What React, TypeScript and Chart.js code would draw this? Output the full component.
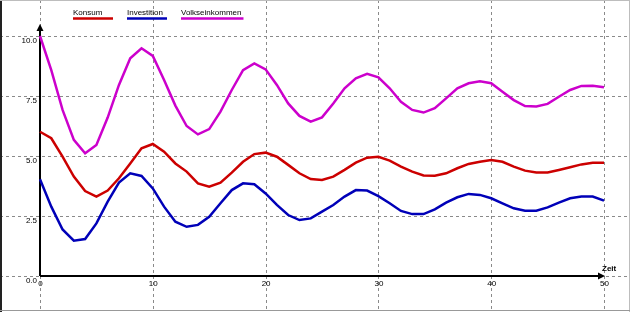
import React, { useEffect, useRef } from "react";
import { Chart, registerables } from "chart.js";

Chart.register(...registerables);

// ---- data ----
const zeit = [
  0, 1, 2, 3, 4, 5, 6, 7, 8, 9, 10, 11, 12, 13, 14, 15, 16, 17, 18, 19, 20, 21, 22, 23, 24, 25,
  26, 27, 28, 29, 30, 31, 32, 33, 34, 35, 36, 37, 38, 39, 40, 41, 42, 43, 44, 45, 46, 47, 48, 49, 50,
];

const konsum = [
  6.01, 5.74, 4.97, 4.14, 3.54, 3.31, 3.56, 4.07, 4.69, 5.32,
  5.5, 5.18, 4.69, 4.35, 3.86, 3.72, 3.89, 4.31, 4.76, 5.08,
  5.14, 4.97, 4.63, 4.28, 4.04, 4.0, 4.14, 4.42, 4.72, 4.93,
  4.97, 4.81, 4.56, 4.35, 4.19, 4.18, 4.28, 4.49, 4.67, 4.76,
  4.83, 4.76, 4.56, 4.39, 4.31, 4.31, 4.42, 4.53, 4.65, 4.72, 4.72,
];

const investition = [
  4.03, 2.89, 1.94, 1.47, 1.54, 2.19, 3.1, 3.89, 4.28, 4.17,
  3.65, 2.89, 2.26, 2.05, 2.13, 2.47, 3.03, 3.58, 3.86, 3.82,
  3.44, 2.96, 2.54, 2.33, 2.4, 2.68, 2.96, 3.31, 3.58, 3.56,
  3.33, 3.03, 2.71, 2.58, 2.58, 2.78, 3.06, 3.28, 3.42, 3.38,
  3.24, 3.03, 2.82, 2.72, 2.72, 2.86, 3.06, 3.24, 3.31, 3.31, 3.14,
];

const volkseinkommen = [
  10.0, 8.58, 6.92, 5.67, 5.11, 5.46, 6.6, 7.96, 9.07, 9.49,
  9.17, 8.17, 7.1, 6.25, 5.9, 6.12, 6.85, 7.75, 8.58, 8.86,
  8.61, 7.96, 7.19, 6.67, 6.43, 6.61, 7.19, 7.82, 8.24, 8.42,
  8.28, 7.82, 7.26, 6.92, 6.81, 6.99, 7.4, 7.82, 8.03, 8.11,
  8.03, 7.68, 7.33, 7.08, 7.06, 7.17, 7.47, 7.75, 7.92, 7.93, 7.86,
];

const seriesNames = ["Konsum", "Investition", "Volkseinkommen"];
const seriesColors = ["#cc0000", "#0000b8", "#cc00cc"];

const xTicks = [0, 10, 20, 30, 40, 50];
const xTickLabels = ["0", "10", "20", "30", "40", "50"];
const yTicks = [0, 2.5, 5, 7.5, 10];
const yTickLabels = ["0.0", "2.5", "5.0", "7.5", "10.0"];
const xAxisTitle = "Zeit";

const FONT = "'Liberation Sans', Arial, sans-serif";

export default function App() {
  const ref = useRef<HTMLCanvasElement | null>(null);

  useEffect(() => {
    const canvas = ref.current;
    if (!canvas) return;

    const decor = {
      id: "decor",
      beforeDatasetsDraw(chart: any) {
        const ctx = chart.ctx as CanvasRenderingContext2D;
        const xs = chart.scales.x;
        const ys = chart.scales.y;
        const W = chart.width;
        const H = chart.height;
        const line = (a: number, b: number, c: number, d: number) => {
          ctx.beginPath();
          ctx.moveTo(a, b);
          ctx.lineTo(c, d);
          ctx.stroke();
        };
        ctx.save();
        // dashed grid
        ctx.strokeStyle = "#8a8a8a";
        ctx.lineWidth = 1;
        ctx.setLineDash([3, 3]);
        xTicks.forEach((v) => {
          const px = Math.round(xs.getPixelForValue(v)) + 0.5;
          line(px, 0, px, H);
        });
        yTicks.forEach((v) => {
          const py = Math.round(ys.getPixelForValue(v)) + 0.5;
          line(0, py, W, py);
        });
        ctx.setLineDash([]);

        // axes with arrows
        const x0 = xs.getPixelForValue(0);
        const y0 = ys.getPixelForValue(0);
        const xEnd = xs.getPixelForValue(xTicks[xTicks.length - 1]);
        const yTop = ys.getPixelForValue(yTicks[yTicks.length - 1]);
        ctx.strokeStyle = "#000";
        ctx.fillStyle = "#000";
        ctx.lineWidth = 2;
        line(x0, y0, x0, yTop - 6);
        ctx.beginPath();
        ctx.moveTo(x0, yTop - 12);
        ctx.lineTo(x0 - 3.5, yTop - 5);
        ctx.lineTo(x0 + 3.5, yTop - 5);
        ctx.closePath();
        ctx.fill();
        line(x0, y0, xEnd - 5, y0);
        ctx.beginPath();
        ctx.moveTo(xEnd + 1, y0);
        ctx.lineTo(xEnd - 6, y0 - 3.5);
        ctx.lineTo(xEnd - 6, y0 + 3.5);
        ctx.closePath();
        ctx.fill();

        // tick labels
        ctx.font = `8px ${FONT}`;
        ctx.textBaseline = "alphabetic";
        ctx.textAlign = "right";
        yTicks.forEach((v, i) => {
          const py = ys.getPixelForValue(v);
          ctx.fillText(yTickLabels[i], x0 - 3, py + 7);
        });
        ctx.textAlign = "center";
        xTicks.forEach((v, i) => {
          const px = xs.getPixelForValue(v);
          ctx.fillText(xTickLabels[i], px + 0.5, y0 + 10);
        });
        ctx.font = `bold 8px ${FONT}`;
        ctx.textAlign = "left";
        ctx.fillText(xAxisTitle, xEnd - 2, y0 - 5);
        ctx.restore();
      },
      afterDraw(chart: any) {
        const ctx = chart.ctx as CanvasRenderingContext2D;
        const W = chart.width;
        const H = chart.height;
        ctx.save();
        // legend
        ctx.font = `8px ${FONT}`;
        ctx.textBaseline = "alphabetic";
        ctx.textAlign = "left";
        chart.data.datasets.forEach((ds: any, i: number) => {
          const lx = 73 + i * 54;
          const tw = ctx.measureText(ds.label).width;
          ctx.fillStyle = "#000";
          ctx.fillText(ds.label, lx, 15);
          ctx.strokeStyle = ds.borderColor;
          ctx.lineWidth = 2.5;
          ctx.beginPath();
          ctx.moveTo(lx, 18.5);
          ctx.lineTo(lx + Math.max(40, tw + 2), 18.5);
          ctx.stroke();
        });
        // frame
        ctx.fillStyle = "#222";
        ctx.fillRect(0, 0, 2, H);
        ctx.fillStyle = "#bdbdbd";
        ctx.fillRect(0, 0, W, 1);
        ctx.fillRect(W - 1, 0, 1, H);
        ctx.fillStyle = "#999";
        ctx.fillRect(0, H - 2, W, 1);
        ctx.restore();
      },
    };

    const mk = (label: string, values: number[], color: string) => ({
      label,
      data: zeit.map((t, i) => ({ x: t, y: values[i] })),
      borderColor: color,
      backgroundColor: color,
      borderWidth: 2.5,
      pointRadius: 0,
      tension: 0,
      fill: false,
      clip: false as any,
    });

    const chart = new Chart(canvas, {
      type: "line",
      data: {
        datasets: [
          mk(seriesNames[0], konsum, seriesColors[0]),
          mk(seriesNames[1], investition, seriesColors[1]),
          mk(seriesNames[2], volkseinkommen, seriesColors[2]),
        ],
      },
      options: {
        responsive: false,
        animation: false,
        devicePixelRatio: 1,
        layout: { padding: { left: 40, right: 26, top: 36, bottom: 36 } },
        scales: {
          x: { type: "linear", min: 0, max: 50, display: false },
          y: { type: "linear", min: 0, max: 10, display: false },
        },
        plugins: {
          legend: { display: false },
          tooltip: { enabled: false },
        },
      },
      plugins: [decor],
    });

    return () => chart.destroy();
  }, []);

  return (
    <div style={{ position: "absolute", left: 0, top: 0, width: 630, height: 312, background: "#fff" }}>
      <canvas ref={ref} width={630} height={312} style={{ display: "block" }} />
    </div>
  );
}
